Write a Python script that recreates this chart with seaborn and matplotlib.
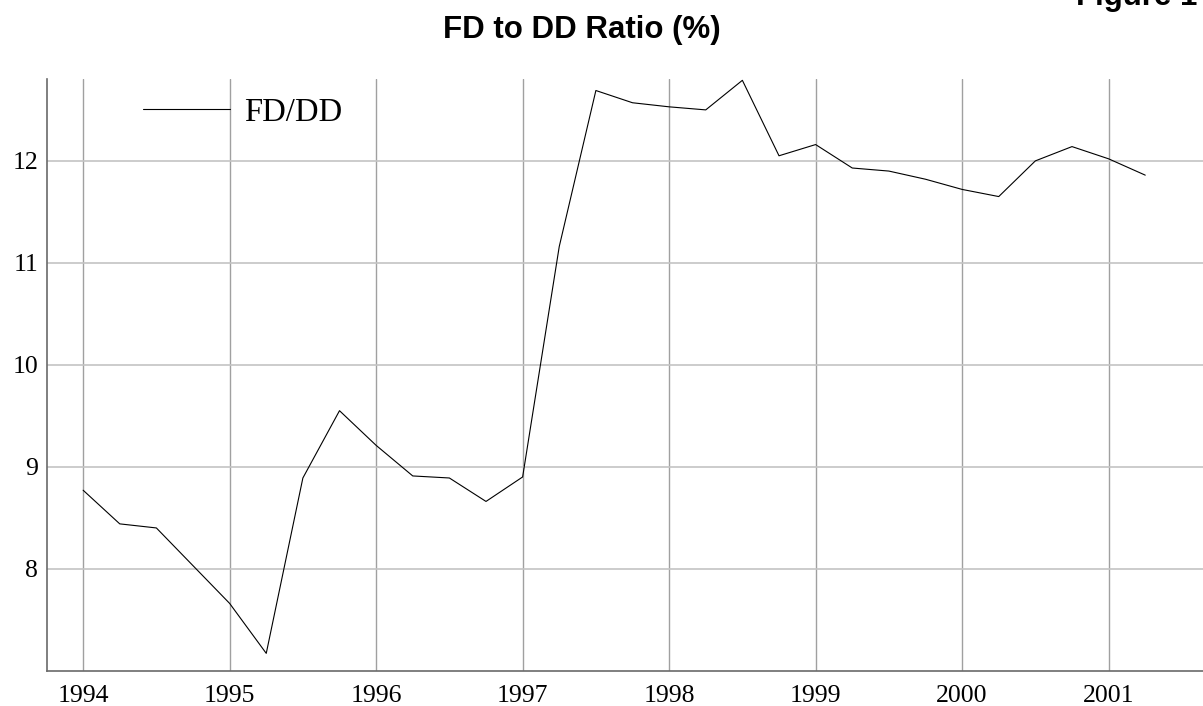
import numpy as np
import pandas as pd
import seaborn as sns
import matplotlib.pyplot as plt
from matplotlib.ticker import MultipleLocator

# data: quarterly FD/DD ratio, 1994Q1 - 2001Q2
quarters = pd.period_range("1994Q1", "2001Q2", freq="Q")
fd_dd = [8.77, 8.44, 8.40, 8.03,
         7.66, 7.17, 8.89, 9.55,
         9.21, 8.91, 8.89, 8.66,
         8.90, 11.16, 12.69, 12.57,
         12.53, 12.50, 12.79, 12.05,
         12.16, 11.93, 11.90, 11.82,
         11.72, 11.65, 12.00, 12.14,
         12.02, 11.86]
year_ticks = [1994, 1995, 1996, 1997, 1998, 1999, 2000, 2001]
y_ticks = [8, 9, 10, 11, 12]

df = pd.DataFrame({"t": quarters.year + (quarters.quarter - 1) / 4, "ratio": fd_dd})

sns.set_style("white")
plt.rcParams["font.family"] = ["Liberation Serif", "DejaVu Serif"]
plt.rcParams["text.color"] = "black"

fig = plt.figure(figsize=(12.03, 7.06), dpi=100)
W, H = 1203, 706
ax = fig.add_axes([46.5 / W, 1 - 670.7 / H, (W - 46.5) / W, (670.7 - 79.3) / H])

sns.lineplot(data=df, x="t", y="ratio", color="black", linewidth=0.8,
             label="FD/DD", ax=ax)

ax.set_xlim(1993.75, 1993.75 + (W - 46.5) / 146.5)
ax.set_ylim(7.0, 12.8)
ax.set_xticks(year_ticks)
ax.set_xticklabels([str(y) for y in year_ticks])
ax.set_yticks(y_ticks)
ax.xaxis.set_minor_locator(MultipleLocator(0.25))
ax.yaxis.set_minor_locator(MultipleLocator(0.2))
ax.set_xlabel("")
ax.set_ylabel("")

# grid - vertical lines a bit darker than horizontal ones
ax.xaxis.grid(True, color="#a0a0a0", linewidth=1.0)
ax.yaxis.grid(True, color="#c4c4c4", linewidth=1.2)
ax.set_axisbelow(True)

for s in ["top", "right"]:
    ax.spines[s].set_visible(False)
for s in ["left", "bottom"]:
    ax.spines[s].set_color("#6a6a6a")
    ax.spines[s].set_linewidth(1.2)

ax.tick_params(axis="both", which="major", direction="in", length=7,
               width=1, color="#555555", labelsize=18.5, labelcolor="black")
ax.tick_params(axis="x", which="minor", direction="in", length=3,
               width=1, color="#333333")
ax.tick_params(axis="y", which="minor", direction="in", length=4.3,
               width=1, color="#333333")
ax.tick_params(axis="x", which="major", pad=10.5)
ax.tick_params(axis="y", which="major", pad=6)

leg = ax.legend(loc="center left",
                bbox_to_anchor=((143.3 - 46.5) / (W - 46.5), (670.7 - 112.3) / (670.7 - 79.3)),
                frameon=False, fontsize=23.5, handlelength=2.67, handletextpad=0.43,
                borderpad=0, borderaxespad=0)
for t in leg.get_texts():
    t.set_color("black")

fig.text(582 / W, 1 - 37.7 / H, "FD to DD Ratio (%)", ha="center", va="baseline",
         fontsize=22.5, fontweight="bold", color="black",
         family=["Liberation Sans", "DejaVu Sans"])
# cut off at the top edge, as in the original
fig.text(1197 / W, 1 - 5 / H, "Figure 1", ha="right", va="baseline",
         fontsize=22.5, fontweight="bold", color="black",
         family=["Liberation Sans", "DejaVu Sans"])

fig.savefig("out.png", dpi=100)
